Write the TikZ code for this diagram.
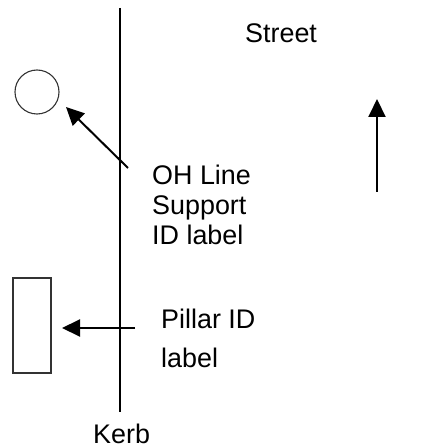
\documentclass[tikz,border=0pt]{standalone}
\usepackage{fontspec}
\setmainfont{Liberation Sans}
\usetikzlibrary{arrows.meta}
\begin{document}
\begin{tikzpicture}[x=1bp,y=-1bp,
  lbl/.style={anchor=base west,inner sep=0pt,font=\fontsize{27}{30}\selectfont},
  outline/.style={draw=black!80,line width=1.1bp},
  pointer/.style={line width=2bp,-{Triangle[length=18bp,width=17bp]}}]
\useasboundingbox (0,0) rectangle (448,448);

% kerb line
\coordinate (ktop) at (120,8);
\coordinate (kbot) at (120,412);
\draw[line width=1.3bp] (ktop) -- (kbot);

% overhead line support and pillar
\node[outline,circle,minimum size=44bp,inner sep=0pt] (pole) at (37,92) {};
\node[outline,rectangle,minimum width=38bp,minimum height=95bp,inner sep=0pt] (pillar) at (32,325.5) {};

% labels
\node[lbl] (street) at (245,43) {Street};
\node[lbl] (oh1) at (152,185) {OH Line};
\node[lbl] (oh2) at (152,215) {Support};
\node[lbl] (oh3) at (152,244) {ID label};
\node[lbl] (pl1) at (161,328) {Pillar ID};
\node[lbl] (pl2) at (161,367) {label};
\node[lbl] (kerb) at (93,443) {Kerb};

% pointers
\coordinate (t1) at (128,168);
\coordinate (h1) at (66,107);
\draw[pointer] (t1) -- (h1);
\coordinate (t2) at (135,328);
\coordinate (h2) at (62,328);
\draw[pointer] (t2) -- (h2);
\coordinate (t3) at (377,192);
\coordinate (h3) at (377,99);
\draw[pointer] (t3) -- (h3);
\end{tikzpicture}
\end{document}
